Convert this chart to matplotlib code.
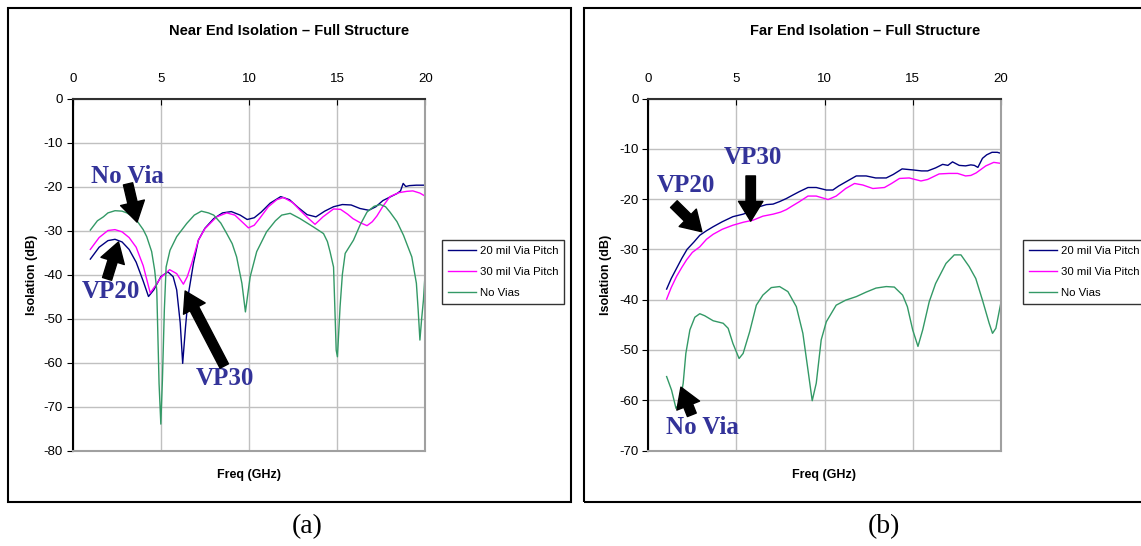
import matplotlib
matplotlib.use("Agg")
import matplotlib.pyplot as plt
from matplotlib.patches import Rectangle

# ---- data (GHz, dB) ----
near_20_f = [1.0, 1.5, 2.0, 2.4, 2.8, 3.2, 3.6, 4.0, 4.3, 4.6, 5.0, 5.4, 5.7, 5.9, 6.1, 6.24,
             6.4, 6.57, 6.85, 7.13, 7.5, 8.0, 8.5, 9.0, 9.5, 9.9, 10.3, 10.7, 11.2, 11.8,
             12.3, 12.8, 13.3, 13.8, 14.3, 14.8, 15.3, 15.8, 16.3, 16.8, 17.2, 17.6, 18.0,
             18.4, 18.6, 18.75, 18.9, 19.1, 19.5, 20.0]
near_20_db = [-36.5, -33.8, -32.3, -32.0, -32.6, -34.3, -37.2, -41.5, -45.0, -43.5, -40.5,
              -39.4, -40.5, -43.5, -51.0, -60.2, -52.0, -44.3, -37.5, -32.2, -29.5, -27.3,
              -26.0, -25.7, -26.5, -27.5, -27.1, -25.8, -23.8, -22.3, -23.0, -24.8, -26.4,
              -26.9, -25.6, -24.6, -24.1, -24.2, -25.0, -25.4, -24.6, -23.2, -22.4, -21.6,
              -21.0, -19.3, -20.0, -19.8, -19.7, -19.7]

near_30_f = [1.0, 1.5, 2.0, 2.4, 2.8, 3.2, 3.6, 4.0, 4.4, 4.7, 5.0, 5.5, 5.9, 6.28, 6.5,
             6.75, 7.13, 7.5, 8.17, 8.74, 9.2, 9.6, 9.97, 10.3, 10.6, 11.1, 11.58, 11.96,
             12.5, 12.9, 13.28, 13.75, 14.2, 14.8, 15.2, 15.6, 15.9, 16.3, 16.7, 17.0,
             17.26, 17.6, 18.0, 18.5, 18.96, 19.3, 19.7, 20.0]
near_30_db = [-34.3, -31.6, -30.0, -29.8, -30.3, -31.6, -33.8, -38.0, -44.2, -42.5, -40.7,
              -38.9, -39.8, -42.2, -40.5, -37.5, -32.2, -29.6, -26.9, -26.0, -26.5, -28.0,
              -29.4, -28.8, -27.3, -24.6, -23.0, -22.5, -23.7, -25.4, -26.9, -28.6, -26.9,
              -25.1, -25.2, -26.3, -27.3, -28.2, -28.9, -28.0, -26.7, -24.5, -22.3, -21.4,
              -21.1, -21.0, -21.5, -22.2]

near_nv_f = [1.0, 1.4, 1.74, 2.0, 2.4, 2.8, 3.07, 3.4, 3.63, 4.0, 4.2, 4.48, 4.65, 4.77,
             4.9, 5.0, 5.09, 5.2, 5.3, 5.52, 5.9, 6.47, 6.9, 7.3, 7.7, 8.0, 8.4, 8.74,
             9.05, 9.3, 9.6, 9.8, 9.95, 10.07, 10.44, 11.0, 11.5, 11.86, 12.34, 12.9,
             13.3, 13.66, 14.23, 14.45, 14.6, 14.8, 14.95, 15.02, 15.17, 15.3, 15.46,
             15.93, 16.3, 16.7, 17.1, 17.45, 17.75, 18.0, 18.4, 18.77, 19.24, 19.5, 19.6,
             19.7, 19.8, 19.9, 20.0]
near_nv_db = [-29.9, -27.8, -26.9, -26.0, -25.5, -25.6, -26.0, -26.8, -27.7, -29.8, -31.4,
              -34.8, -39.0, -43.6, -64.8, -74.0, -64.0, -48.0, -38.3, -34.5, -31.4, -28.4,
              -26.5, -25.6, -26.0, -26.5, -28.3, -30.7, -33.0, -36.0, -42.0, -48.5, -44.0,
              -40.5, -34.8, -30.3, -27.8, -26.5, -26.1, -27.3, -28.3, -29.2, -30.7, -32.5,
              -34.8, -38.3, -57.2, -58.7, -47.3, -40.0, -35.2, -32.2, -28.8, -25.8, -24.5,
              -24.1, -24.6, -25.8, -28.0, -31.1, -36.0, -42.0, -48.0, -54.9, -50.0, -45.8,
              -39.4]

far_20_f = [1.04, 1.3, 1.6, 1.9, 2.2, 2.6, 2.92, 3.3, 3.68, 4.2, 4.8, 5.38, 5.9, 6.32, 6.7,
            7.08, 7.45, 7.83, 8.2, 8.58, 9.06, 9.53, 10.1, 10.47, 10.8, 11.2, 11.8, 12.36,
            12.9, 13.5, 13.9, 14.4, 15.0, 15.5, 15.85, 16.3, 16.7, 17.0, 17.26, 17.64,
            18.0, 18.3, 18.5, 18.7, 18.96, 19.2, 19.5, 19.8, 20.0]
far_20_db = [-37.9, -35.8, -33.8, -31.8, -30.0, -28.5, -27.2, -26.3, -25.5, -24.5, -23.5,
             -23.0, -22.3, -21.5, -21.1, -21.0, -20.5, -19.9, -19.2, -18.5, -17.7, -17.7,
             -18.2, -18.2, -17.4, -16.6, -15.4, -15.4, -15.8, -15.8, -15.1, -14.0, -14.2,
             -14.4, -14.4, -13.8, -13.1, -13.3, -12.6, -13.3, -13.4, -13.2, -13.3, -13.7,
             -11.9, -11.2, -10.7, -10.7, -10.9]

far_30_f = [1.04, 1.3, 1.6, 1.9, 2.17, 2.5, 2.92, 3.3, 3.68, 4.2, 4.8, 5.4, 5.94, 6.5,
            7.08, 7.5, 7.83, 8.2, 8.58, 9.06, 9.53, 10.2, 10.66, 11.2, 11.7, 12.17, 12.74,
            13.4, 13.8, 14.25, 14.8, 15.47, 15.85, 16.5, 17.07, 17.55, 18.0, 18.3, 18.6,
            19.15, 19.6, 20.0]
far_30_db = [-39.9, -37.6, -35.4, -33.6, -32.1, -30.6, -29.5, -28.0, -27.0, -26.0, -25.2,
             -24.6, -24.2, -23.4, -23.0, -22.6, -22.1, -21.3, -20.5, -19.4, -19.4, -20.1,
             -19.4, -17.9, -16.9, -17.2, -17.9, -17.7, -16.9, -15.9, -15.8, -16.4, -16.1,
             -15.0, -14.9, -14.9, -15.4, -15.3, -14.8, -13.4, -12.7, -12.9]

far_nv_f = [1.04, 1.32, 1.57, 1.79, 1.98, 2.13, 2.36, 2.64, 2.92, 3.2, 3.68, 4.25, 4.53,
            4.8, 5.15, 5.38, 5.75, 6.13, 6.5, 6.98, 7.45, 7.92, 8.4, 8.77, 9.06, 9.3,
            9.53, 9.81, 10.1, 10.66, 11.2, 11.8, 12.36, 12.92, 13.5, 13.96, 14.43, 14.7,
            15.0, 15.3, 15.57, 15.94, 16.3, 16.89, 17.36, 17.74, 18.2, 18.58, 18.96,
            19.34, 19.53, 19.72, 20.0]
far_nv_db = [-55.3, -58.0, -61.6, -60.6, -56.6, -50.7, -46.0, -43.5, -42.8, -43.2, -44.2,
             -44.7, -45.7, -48.7, -51.7, -50.7, -46.4, -41.1, -39.1, -37.6, -37.4, -38.4,
             -41.4, -46.7, -54.0, -60.1, -56.6, -48.0, -44.4, -41.1, -40.1, -39.4, -38.5,
             -37.7, -37.4, -37.5, -39.1, -41.4, -46.0, -49.3, -46.0, -40.4, -36.8, -32.8,
             -31.1, -31.1, -33.4, -35.8, -40.1, -44.7, -46.7, -45.7, -40.7]

labels = ["20 mil Via Pitch", "30 mil Via Pitch", "No Vias"]
colors = ["#000080", "#ff00ff", "#339966"]
xticks = [0, 5, 10, 15, 20]

W, H = 1141, 546
plt.rcParams['font.family'] = ['Liberation Sans', 'DejaVu Sans']
plt.rcParams['axes.unicode_minus'] = False
fig = plt.figure(figsize=(W / 100, H / 100), dpi=100)

def fx(px):
    return px / W

def fy(py):
    return 1 - py / H

ann_color = "#333399"
serif = ['Liberation Serif', 'DejaVu Serif']


def arrow(ax, tail, tip):
    ax.annotate("", xy=tip, xytext=tail,
                arrowprops=dict(arrowstyle="simple,head_length=1.3,head_width=1.6,tail_width=0.62",
                                fc="black", ec="black", mutation_scale=11,
                                shrinkA=0, shrinkB=0), annotation_clip=False)


def make_panel(left_px, ymin, yticks, series, title, title_x, ylab_x, leg_x, frame, tag_x, tag):
    ax = fig.add_axes([fx(left_px), fy(450.5), 352.5 / W, 352 / H])
    for (f, d), lab, c in zip(series, labels, colors):
        ax.plot(f, d, color=c, lw=1.0, label=lab)
    ax.set_xlim(0, 20)
    ax.set_ylim(ymin, 0)
    ax.set_xticks(xticks)
    ax.set_yticks(yticks)
    ax.xaxis.tick_top()
    ax.tick_params(axis='x', direction='in', length=4, pad=10, labelsize=9.5, colors='black')
    ax.tick_params(axis='y', direction='out', length=4, pad=3, labelsize=9.5)
    ax.grid(True, color='#c0c0c0', lw=1.0)
    ax.set_axisbelow(True)
    ax.spines['left'].set_color('black')
    ax.spines['left'].set_linewidth(1.5)
    ax.spines['top'].set_color('#303030')
    ax.spines['top'].set_linewidth(1.5)
    for s in ('right', 'bottom'):
        ax.spines[s].set_color('#a0a0a0')
        ax.spines[s].set_linewidth(1.5)
    leg = ax.legend(loc='upper left', bbox_to_anchor=(fx(leg_x), fy(240)),
                    bbox_transform=fig.transFigure, fontsize=8.2, frameon=True,
                    fancybox=False, edgecolor='black', handlelength=2.5,
                    labelspacing=1.0, borderpad=0.5, handletextpad=0.3,
                    borderaxespad=0)
    leg.get_frame().set_linewidth(1.0)
    fig.text(fx(title_x), fy(31), title, ha='center', va='center',
             fontsize=10.5, fontweight='bold')
    fig.text(fx(left_px + 176), fy(475), "Freq (GHz)", ha='center', va='center',
             fontsize=9, fontweight='bold')
    fig.text(fx(ylab_x), fy(274.5), "Isolation (dB)", ha='center', va='center',
             rotation=90, fontsize=9, fontweight='bold')
    fig.patches.append(Rectangle((fx(frame[0]), fy(502)), fx(frame[1] - frame[0]),
                                 (502 - 8) / H, transform=fig.transFigure,
                                 fill=False, ec='black', lw=1.5))
    fig.text(fx(tag_x), fy(527), tag, ha='center', va='center', fontsize=20,
             family=serif)
    return ax


ax1 = make_panel(72.7, -80, [0, -10, -20, -30, -40, -50, -60, -70, -80],
                 [(near_20_f, near_20_db), (near_30_f, near_30_db), (near_nv_f, near_nv_db)],
                 "Near End Isolation \u2013 Full Structure", 289, 31.5, 442,
                 (7.5, 571), 307, "(a)")
ax2 = make_panel(648.3, -70, [0, -10, -20, -30, -40, -50, -60, -70],
                 [(far_20_f, far_20_db), (far_30_f, far_30_db), (far_nv_f, far_nv_db)],
                 "Far End Isolation \u2013 Full Structure", 865, 606, 1023,
                 (584, 1170), 884, "(b)")

txt = dict(color=ann_color, fontsize=18, fontweight='bold', family=serif,
           ha='center', va='center')

# left panel annotations
ax1.text(3.09, -17.8, "No Via", **txt)
arrow(ax1, (3.14, -19.4), (3.65, -28.1))
ax1.text(2.18, -43.9, "VP20", **txt)
arrow(ax1, (1.95, -41.0), (2.6, -32.6))
ax1.text(8.65, -63.6, "VP30", **txt)
arrow(ax1, (8.6, -60.8), (6.38, -43.75))

# right panel annotations
ax2.text(5.93, -11.8, "VP30", **txt)
arrow(ax2, (5.81, -15.4), (5.81, -24.4))
ax2.text(2.13, -17.4, "VP20", **txt)
arrow(ax2, (1.45, -21.0), (3.04, -26.5))
ax2.text(3.1, -65.4, "No Via", **txt)
arrow(ax2, (2.47, -62.9), (1.85, -57.4))

fig.savefig("out.png", dpi=100)
